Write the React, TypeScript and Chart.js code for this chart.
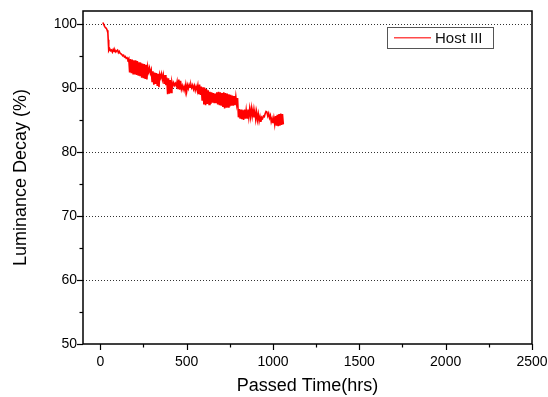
import React, { useEffect, useRef } from "react";
import { Chart, registerables } from "chart.js";

Chart.register(...registerables);

// ---- data ----
const seriesLabel = "Host III";
const xTitle = "Passed Time(hrs)";
const yTitle = "Luminance Decay (%)";
const xTickValues = [0, 500, 1000, 1500, 2000, 2500];
const yTickValues = [50, 60, 70, 80, 90, 100];
const yGridValues = [60, 70, 80, 90, 100];

const hours = [
  15, 20, 25, 30, 35, 40, 44, 46, 48, 50,
  55, 60, 65, 70, 75, 80, 85, 90, 95, 100,
  105, 110, 115, 120, 125, 130, 135, 140, 145, 150,
  155, 160, 165, 170, 175, 180, 185, 190, 195, 200,
  205, 210, 215, 220, 225, 230, 235, 240, 245, 250,
  255, 260, 265, 270, 275, 280, 285, 290, 295, 300,
  305, 310, 315, 320, 325, 330, 335, 340, 345, 350,
  355, 360, 365, 370, 375, 380, 385, 390, 395, 400,
  405, 410, 415, 420, 425, 430, 435, 440, 445, 450,
  455, 460, 465, 470, 475, 480, 485, 490, 495, 500,
  505, 510, 515, 520, 525, 530, 535, 540, 545, 550,
  555, 560, 565, 570, 575, 580, 585, 590, 595, 600,
  605, 610, 615, 620, 625, 630, 635, 640, 645, 650,
  655, 660, 665, 670, 675, 680, 685, 690, 695, 700,
  705, 710, 715, 720, 725, 730, 735, 740, 745, 750,
  755, 760, 765, 770, 775, 780, 785, 790, 795, 798,
  800, 805, 810, 815, 820, 825, 830, 835, 840, 845,
  850, 855, 860, 865, 870, 875, 880, 885, 890, 895,
  900, 905, 910, 915, 920, 925, 930, 935, 940, 945,
  950, 955, 960, 965, 970, 975, 980, 985, 990, 995,
  1000, 1005, 1010, 1015, 1020, 1025, 1030, 1035, 1040, 1045,
  1050, 1055, 1060,
];

const luminance = [
  100.2, 99.9, 99.6, 99.4, 99.3, 99.0, 98.6, 97.5, 96.2, 95.8,
  96.1, 95.8, 95.9, 95.6, 96.0, 95.7, 95.9, 95.6, 95.8, 95.9,
  95.5, 95.7, 95.4, 95.3, 95.2, 95.0, 95.1, 94.8, 94.9, 94.6,
  94.7, 94.4, 94.6, 92.4, 94.5, 92.3, 94.4, 92.2, 94.3, 92.1,
  94.3, 92.0, 94.2, 91.9, 94.0, 91.8, 93.9, 91.6, 93.8, 91.5,
  93.7, 91.4, 93.6, 91.3, 93.3, 92.5, 93.1, 92.3, 92.8, 91.0,
  92.6, 90.5, 92.4, 90.6, 92.3, 90.3, 92.2, 90.1, 92.1, 91.6,
  92.2, 91.3, 92.0, 90.6, 92.0, 90.4, 91.6, 89.0, 91.5, 89.1,
  91.2, 89.3, 90.9, 90.3, 90.8, 90.4, 90.7, 90.3, 91.0, 89.8,
  91.3, 89.7, 91.1, 89.8, 90.3, 89.7, 90.2, 89.6, 90.5, 89.4,
  90.4, 89.9, 90.5, 90.1, 90.5, 90.0, 90.4, 89.8, 90.3, 89.6,
  90.2, 89.7, 90.4, 89.0, 90.5, 88.9, 90.2, 88.0, 90.1, 87.4,
  90.0, 87.3, 89.8, 87.5, 89.6, 87.4, 89.4, 87.5, 89.3, 87.7,
  89.2, 87.6, 89.1, 87.6, 89.3, 87.4, 89.4, 87.3, 89.3, 87.2,
  89.2, 87.0, 89.3, 86.8, 89.2, 86.9, 89.1, 87.0, 89.0, 87.1,
  88.9, 87.2, 88.8, 87.2, 88.7, 87.3, 88.6, 87.4, 88.4, 86.6,
  85.4, 86.7, 85.2, 86.6, 85.1, 86.5, 85.0, 86.6, 85.2, 86.5,
  85.3, 86.6, 85.4, 86.7, 85.5, 86.8, 85.6, 86.6, 85.4, 86.4,
  85.1, 86.2, 85.0, 85.9, 84.8, 85.5, 84.7, 85.4, 85.2, 85.6,
  85.5, 86.0, 86.3, 86.2, 85.6, 86.0, 85.3, 85.7, 84.7, 85.2,
  84.5, 85.3, 84.3, 85.6, 84.1, 85.8, 84.0, 85.9, 84.1, 86.0,
  84.2, 85.9, 84.3,
];

const FONT = "'Liberation Sans', Arial, Helvetica, sans-serif";
const LINE_COLOR = "#ff0000";
const LEGEND_LINE_COLOR = "#ff4a4a";

const originPlugin = {
  id: "originFrame",
  beforeDatasetsDraw(chart: any) {
    const { ctx, chartArea: a, scales } = chart;
    const y = scales.y;
    ctx.save();
    ctx.strokeStyle = "#333";
    ctx.lineWidth = 1;
    ctx.setLineDash([1, 2]);
    for (const v of yGridValues) {
      const py = Math.round(y.getPixelForValue(v)) + 0.5;
      ctx.beginPath();
      ctx.moveTo(a.left, py);
      ctx.lineTo(a.right, py);
      ctx.stroke();
    }
    ctx.restore();
  },
  afterDatasetsDraw(chart: any) {
    const { ctx, chartArea: a, scales } = chart;
    const x = scales.x;
    const y = scales.y;
    ctx.save();
    ctx.strokeStyle = "#000";
    ctx.lineWidth = 1.5;
    ctx.setLineDash([]);
    ctx.strokeRect(a.left, a.top, a.right - a.left, a.bottom - a.top);

    ctx.lineWidth = 1.2;
    for (let i = 0; i < xTickValues.length; i++) {
      const v = xTickValues[i];
      const px = Math.round(x.getPixelForValue(v)) + 0.5;
      ctx.beginPath();
      ctx.moveTo(px, a.bottom);
      ctx.lineTo(px, a.bottom + 6);
      ctx.stroke();
      if (i < xTickValues.length - 1) {
        const mv = (v + xTickValues[i + 1]) / 2;
        const mx = Math.round(x.getPixelForValue(mv)) + 0.5;
        ctx.beginPath();
        ctx.moveTo(mx, a.bottom);
        ctx.lineTo(mx, a.bottom + 3.5);
        ctx.stroke();
      }
    }
    for (let i = 0; i < yTickValues.length; i++) {
      const v = yTickValues[i];
      const py = Math.round(y.getPixelForValue(v)) + 0.5;
      ctx.beginPath();
      ctx.moveTo(a.left, py);
      ctx.lineTo(a.left - 6, py);
      ctx.stroke();
      if (i < yTickValues.length - 1) {
        const mv = (v + yTickValues[i + 1]) / 2;
        const my = Math.round(y.getPixelForValue(mv)) + 0.5;
        ctx.beginPath();
        ctx.moveTo(a.left, my);
        ctx.lineTo(a.left - 3.5, my);
        ctx.stroke();
      }
    }

    // legend box
    const bx = a.right - 145;
    const by = a.top + 16;
    const bw = 106;
    const bh = 21;
    ctx.lineWidth = 1;
    ctx.strokeStyle = "#555";
    ctx.fillStyle = "#fff";
    ctx.fillRect(bx + 0.5, by + 0.5, bw, bh);
    ctx.strokeRect(bx + 0.5, by + 0.5, bw, bh);
    ctx.fillStyle = LEGEND_LINE_COLOR;
    ctx.fillRect(bx + 7, by + 10, 37, 1.5);
    ctx.fillStyle = "#111";
    ctx.font = `15px ${FONT}`;
    ctx.textBaseline = "middle";
    ctx.textAlign = "left";
    ctx.fillText(chart.data.datasets[0].label, bx + 48, by + 11.5);
    ctx.restore();
  },
};

function zeroPadding(scale: any) {
  scale.paddingLeft = 0;
  scale.paddingRight = 0;
  scale.paddingTop = 0;
  scale.paddingBottom = 0;
}

export default function App() {
  const canvasRef = useRef<HTMLCanvasElement | null>(null);

  useEffect(() => {
    const canvas = canvasRef.current;
    if (!canvas) return;
    const points = hours.map((h, i) => ({ x: h, y: luminance[i] }));
    const chart = new Chart(canvas, {
      type: "line",
      data: {
        datasets: [
          {
            label: seriesLabel,
            data: points,
            borderColor: LINE_COLOR,
            backgroundColor: LINE_COLOR,
            borderWidth: 1.6,
            pointRadius: 0,
            tension: 0,
            fill: false,
          },
        ],
      },
      options: {
        responsive: false,
        animation: false,
        layout: { padding: { top: 11, right: 16, left: 0, bottom: 0 } },
        plugins: {
          legend: { display: false },
          tooltip: { enabled: false },
        },
        scales: {
          x: {
            type: "linear",
            min: -100,
            max: 2500,
            grid: { display: false, drawTicks: false },
            border: { display: false },
            afterFit(scale: any) {
              scale.height = 53;
              zeroPadding(scale);
            },
            afterBuildTicks(scale: any) {
              scale.ticks = xTickValues.map((v) => ({ value: v }));
            },
            ticks: {
              color: "#000",
              font: { family: FONT, size: 14 },
              padding: 10,
              maxRotation: 0,
              autoSkip: false,
              callback: (v: any) => String(v),
            },
            title: {
              display: true,
              text: xTitle,
              color: "#000",
              font: { family: FONT, size: 18 },
              padding: { top: 0, bottom: 0 },
            },
          },
          y: {
            type: "linear",
            min: 50,
            max: 102,
            grid: { display: false, drawTicks: false },
            border: { display: false },
            afterFit(scale: any) {
              scale.width = 83;
              zeroPadding(scale);
            },
            afterBuildTicks(scale: any) {
              scale.ticks = yTickValues.map((v) => ({ value: v }));
            },
            ticks: {
              color: "#000",
              font: { family: FONT, size: 14 },
              padding: 6,
              autoSkip: false,
              callback: (v: any) => String(v),
            },
            title: {
              display: true,
              text: yTitle,
              color: "#000",
              font: { family: FONT, size: 18 },
              padding: { top: 10, bottom: 0 },
            },
          },
        },
      },
      plugins: [originPlugin],
    } as any);
    return () => chart.destroy();
  }, []);

  return (
    <div style={{ position: "absolute", left: 0, top: 0, width: 548, height: 397, background: "#fff" }}>
      <canvas ref={canvasRef} width={548} height={397} style={{ display: "block", width: 548, height: 397 }} />
    </div>
  );
}
